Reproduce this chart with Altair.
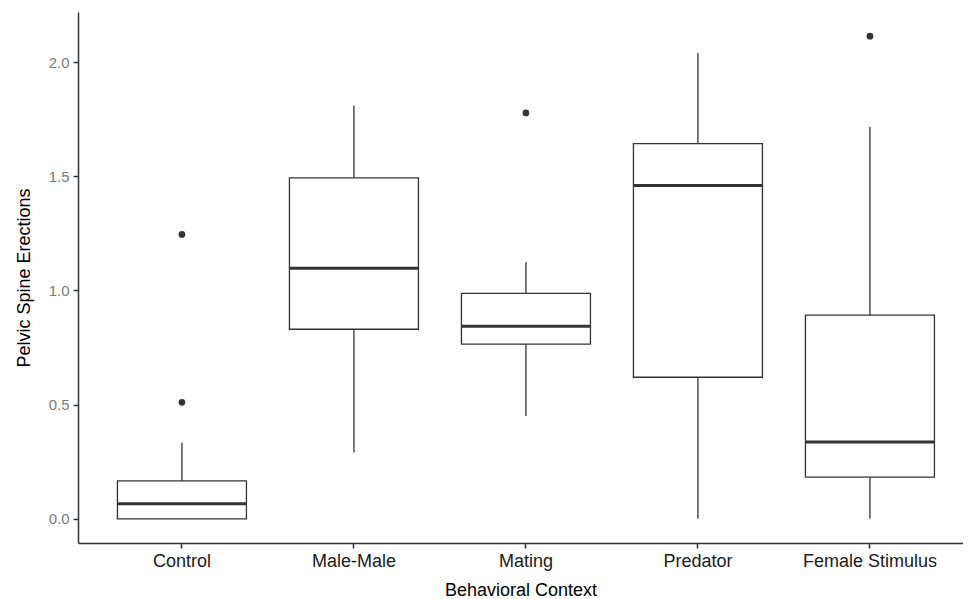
import altair as alt
import pandas as pd

categories = ["Control", "Male-Male", "Mating", "Predator", "Female Stimulus"]
lower = [0.0, 0.29, 0.45, 0.0, 0.0]
q1 = [0.0, 0.83, 0.765, 0.62, 0.183]
median = [0.066, 1.097, 0.843, 1.459, 0.336]
q3 = [0.166, 1.493, 0.987, 1.643, 0.892]
upper = [0.333, 1.81, 1.123, 2.04, 1.717]
outlier_cat = ["Control", "Control", "Mating", "Female Stimulus"]
outlier_val = [0.51, 1.245, 1.777, 2.113]

stats = pd.DataFrame({"cat": categories, "lower": lower, "q1": q1,
                      "median": median, "q3": q3, "upper": upper})
outl = pd.DataFrame({"cat": outlier_cat, "val": outlier_val})

W, H = 885, 531
step = 172
po = (W / step - 4.75) / 2
xscale = alt.Scale(domain=categories, paddingInner=0.25, paddingOuter=po, align=0.58)
yscale = alt.Scale(domain=[-0.1057, 2.219], nice=False, zero=False)

xenc = alt.X("cat:N", scale=xscale, sort=categories, title="Behavioral Context",
             axis=alt.Axis(labelAngle=0, labelColor="#1a1a1a", labelFontSize=18,
                           titleFontSize=18, titleFontWeight="normal", titleColor="#000000",
                           domainColor="#333333", domainWidth=1.5, tickColor="#333333",
                           tickWidth=1.5, tickSize=5, labelPadding=4, titlePadding=11,
                           grid=False))
yax = alt.Axis(values=[0, 0.5, 1.0, 1.5, 2.0], format=".1f", labelColor="#7a7a7a",
               labelFontSize=15, titleFontSize=18, titleFontWeight="normal",
               titleColor="#000000", domainColor="#333333", domainWidth=1.5,
               tickColor="#333333", tickWidth=1.5, tickSize=5, labelPadding=4,
               titlePadding=15, grid=False)

base = alt.Chart(stats)

whisk_lo = base.mark_rule(color="#333333", strokeWidth=1.3).encode(
    x=xenc, y=alt.Y("lower:Q", scale=yscale, axis=yax, title="Pelvic Spine Erections"),
    y2="q1:Q")
whisk_hi = base.mark_rule(color="#333333", strokeWidth=1.3).encode(
    x=alt.X("cat:N", scale=xscale, sort=categories), y=alt.Y("q3:Q", scale=yscale), y2="upper:Q")
box = base.mark_bar(fill="white", stroke="#333333", strokeWidth=1.3,
                    size=step * 0.75).encode(
    x=alt.X("cat:N", scale=xscale, sort=categories), y=alt.Y("q1:Q", scale=yscale), y2="q3:Q")
med = base.mark_tick(color="#333333", opacity=1, thickness=3, size=step * 0.75,
                     orient="horizontal").encode(
    x=alt.X("cat:N", scale=xscale, sort=categories), y=alt.Y("median:Q", scale=yscale))
pts = alt.Chart(outl).mark_circle(color="#333333", opacity=1, size=45).encode(
    x=alt.X("cat:N", scale=xscale, sort=categories), y=alt.Y("val:Q", scale=yscale))

chart = alt.layer(whisk_lo, whisk_hi, box, med, pts).properties(
    width=W, height=H,
    autosize=alt.AutoSizeParams(type="none"),
    padding={"left": 70, "top": 4, "right": 0, "bottom": 58},
).configure(font="Liberation Sans", view=alt.ViewConfig(stroke=None))

chart.save("out.html", embed_options={"renderer": "svg", "actions": False})
